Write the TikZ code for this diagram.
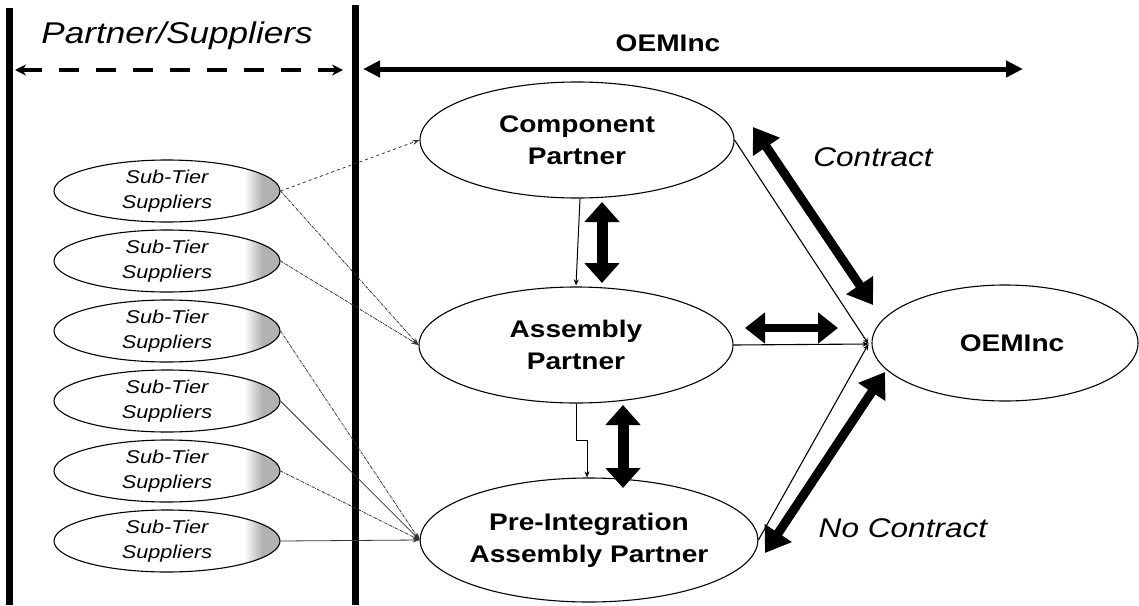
\documentclass[tikz,border=0pt]{standalone}
\usepackage{fontspec}
\newfontfamily\arialw[FakeStretch=1.17]{Liberation Sans}
\usetikzlibrary{shapes.geometric,arrows.meta,calc}

\begin{document}
\begin{tikzpicture}[x=1pt,y=-1pt,
  oval/.style={ellipse,draw,line width=1.1pt,inner sep=0pt,align=center},
  bigoval/.style={oval,font=\arialw\bfseries\fontsize{24}{32}\selectfont},
  suboval/.style={oval,minimum width=226pt,minimum height=62pt,
    font=\arialw\itshape\fontsize{18.5}{25}\selectfont},
  feed/.style={line width=0.8pt,black!80,-{Stealth[length=7pt,width=5pt]}},
  link/.style={line width=1.1pt,-{Stealth[length=6pt,width=5pt]}},
  block/.style={line width=9pt,
    {Triangle[length=24pt,width=31pt]}-{Triangle[length=24pt,width=31pt]}},
  vblock/.style={line width=11pt,
    {Triangle[length=20pt,width=34pt]}-{Triangle[length=20pt,width=34pt]}},
  hblock/.style={line width=8pt,
    {Triangle[length=20pt,width=30pt]}-{Triangle[length=20pt,width=30pt]}},
  divider/.style={line width=7pt},
  span/.style={line width=5pt,
    {Triangle[length=17pt,width=16pt]}-{Triangle[length=17pt,width=16pt]}},
  dspan/.style={line width=4pt,dash pattern=on 20pt off 17pt,
    {Stealth[length=11pt,width=11pt]}-{Stealth[length=11pt,width=11pt]}},
  ital/.style={font=\arialw\itshape\fontsize{27}{32}\selectfont},
  boldlab/.style={font=\arialw\bfseries\fontsize{24}{30}\selectfont},
]
\useasboundingbox (0,0) rectangle (1139,605);

% region dividers
\draw[divider] (9,8) -- (9,605);
\draw[divider] (355,5) -- (355,605);

% headers
\node[font=\arialw\itshape\fontsize{30}{34}\selectfont,anchor=base] (hdrp) at (177,43) {Partner/Suppliers};
\node[boldlab,anchor=base] (hdro) at (668,51) {OEMInc};

\coordinate (dl) at (15,70);
\coordinate (dr) at (343,70);
\coordinate (sl) at (363,69);
\coordinate (sr) at (1023,69);
\draw[dspan] (dl) -- (dr);
\draw[span] (sl) -- (sr);

% sub-tier supplier ovals with shaded right ends
\foreach \i/\y in {1/191,2/261,3/331,4/401,5/471,6/541}{
  \begin{scope}
    \clip (167,\y) ellipse [x radius=113pt, y radius=31pt];
    \shade[left color=white,right color=gray!60] (244,\y-32) rectangle (262,\y+32);
    \fill[gray!60] (262,\y-32) rectangle (282,\y+32);
  \end{scope}
  \node[suboval] (st\i) at (167,\y) {Sub-Tier\\Suppliers};
}

% partner ovals
\node[bigoval,minimum width=314pt,minimum height=116pt] (comp) at (577,140) {Component\\Partner};
\node[bigoval,minimum width=314pt,minimum height=116pt] (asm) at (576,345) {Assembly\\Partner};
\node[bigoval,minimum width=318pt,minimum height=124pt] (pre) at (589,540) {Pre-Integration\\Assembly Partner};
\node[bigoval,minimum width=266pt,minimum height=116pt] (oem) at (1005,343) {\hspace*{14pt}OEMInc};

% supply flows
\draw[feed,dashed] (st1.east) -- (comp.west);
\draw[feed,densely dashdotted] (st1.east) -- (asm.west);
\draw[feed,densely dashdotted] (st2.east) -- (asm.west);
\draw[feed,densely dashdotted] (st3.east) -- (pre.west);
\draw[feed] (st4.east) -- (pre.west);
\draw[feed,densely dashdotted] (st5.east) -- (pre.west);
\draw[feed] (st6.east) -- (pre.west);

% flows between partners
\draw[line width=1pt,-{Stealth[length=6pt,width=5pt]}] ($(comp.south)+(3,0)$) -- ($(asm.north)+(0,-1)$);
\draw[line width=1pt,-{Stealth[length=6pt,width=5pt]}] (asm.south) |- ($(asm.south)!0.5!(pre.north)$) -| ($(pre.north)+(-2,0)$);

% flows into the OEM
\coordinate (hub) at ($(oem.west)+(-3,1)$);
\draw[link] (comp.east) -- (hub);
\draw[link] (asm.east) -- (hub);
\draw[link] (pre.east) -- (hub);

% relationship arrows
\coordinate (ca1) at (602,202);
\coordinate (ca2) at (602,283);
\coordinate (ap1) at (623,405);
\coordinate (ap2) at (623,488);
\coordinate (co1) at (753,127);
\coordinate (co2) at (873,305);
\coordinate (ao1) at (745,328);
\coordinate (ao2) at (838,328);
\coordinate (no1) at (885,372);
\coordinate (no2) at (765,553);
\draw[vblock] (ca1) -- (ca2);
\draw[vblock] (ap1) -- (ap2);
\draw[block] (co1) -- (co2);
\draw[hblock] (ao1) -- (ao2);
\draw[block] (no1) -- (no2);

\node[ital,anchor=base] (lc) at (873,166) {Contract};
\node[ital,anchor=base] (lnc) at (903,537) {No Contract};
\end{tikzpicture}
\end{document}
